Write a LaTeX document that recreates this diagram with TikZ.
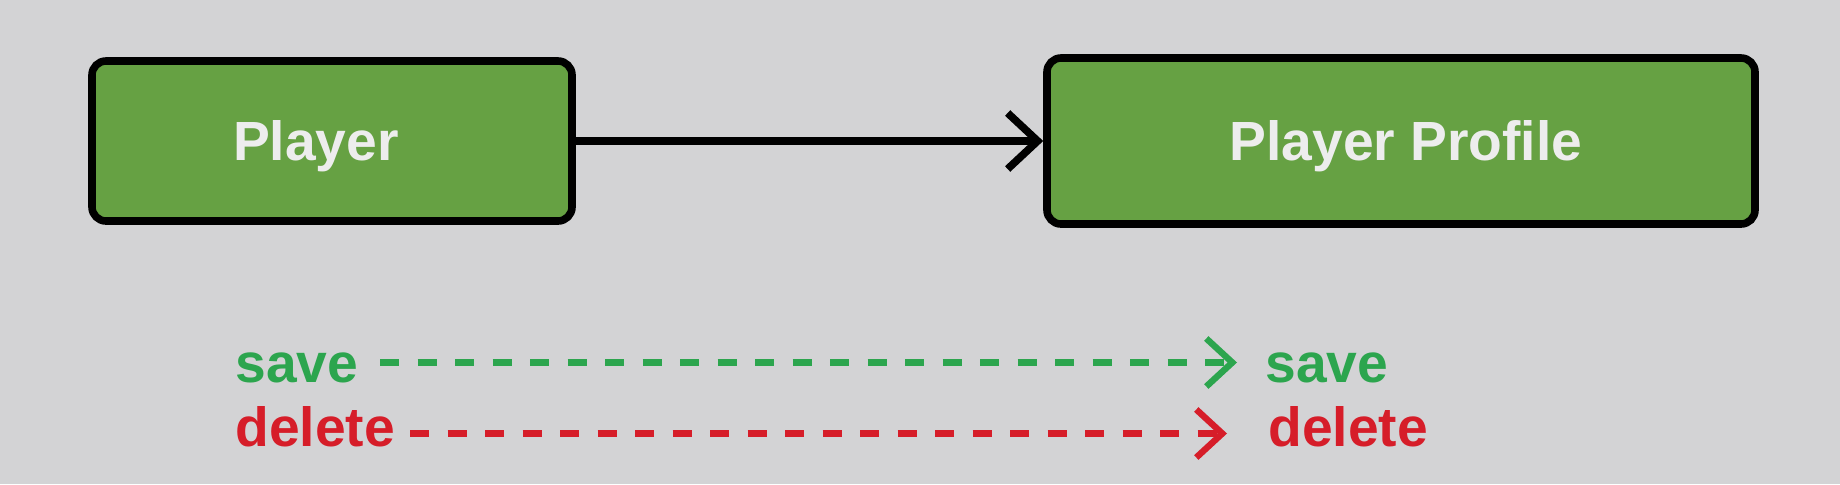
\documentclass[tikz,border=0pt]{standalone}
\usepackage{fontspec}
\setmainfont{Liberation Sans}
\usetikzlibrary{arrows.meta}
\definecolor{canvas}{RGB}{211,211,213}
\definecolor{boxgreen}{RGB}{102,161,67}
\definecolor{boxtext}{RGB}{237,237,237}
\definecolor{savegreen}{RGB}{44,165,78}
\definecolor{deletered}{RGB}{214,29,41}
\tikzset{
  entity/.style={draw=black,line width=3.8pt,fill=boxgreen,rounded corners=7pt},
  entitytext/.style={text=boxtext,font=\fontsize{27.6}{27.6}\selectfont\bfseries,inner sep=0pt},
  opname/.style={font=\fontsize{27.6}{27.6}\selectfont\bfseries,inner sep=0pt},
  link/.style={line width=3.8pt,-{Straight Barb[length=15pt,width=28pt]}},
  cascade/.style={line width=3.2pt,dash pattern=on 9.5pt off 9.25pt,-{Straight Barb[length=13pt,width=24pt]}},
}
\begin{document}
\begin{tikzpicture}[x=0.5pt,y=-0.5pt]
\fill[canvas] (0,0) rectangle (1840,484);
\useasboundingbox (0,0) rectangle (1840,484);

% entities
\node[entity,minimum width=240pt,minimum height=80pt] (player) at (332,141) {};
\node[entitytext,anchor=base] (playername) at (316,160) {Player};
\node[entity,minimum width=354pt,minimum height=83pt] (profile) at (1401,141) {};
\node[entitytext,anchor=base] (profilename) at (1406,160) {Player Profile};
\draw[link] (player.east) -- (profile.west);

% legend
\node[opname,savegreen,anchor=base west] (savefrom) at (235,382) {save};
\node[opname,savegreen,anchor=base west] (saveto) at (1265,382) {save};
\node[opname,deletered,anchor=base west] (deletefrom) at (235,446) {delete};
\node[opname,deletered,anchor=base west] (deleteto) at (1268,446) {delete};
\coordinate (savestart) at (380,362.5);
\coordinate (saveend) at (1237,362.5);
\coordinate (deletestart) at (410,433.5);
\coordinate (deleteend) at (1227,433.5);
\draw[cascade,savegreen] (savestart) -- (saveend);
\draw[cascade,deletered] (deletestart) -- (deleteend);
\end{tikzpicture}
\end{document}
